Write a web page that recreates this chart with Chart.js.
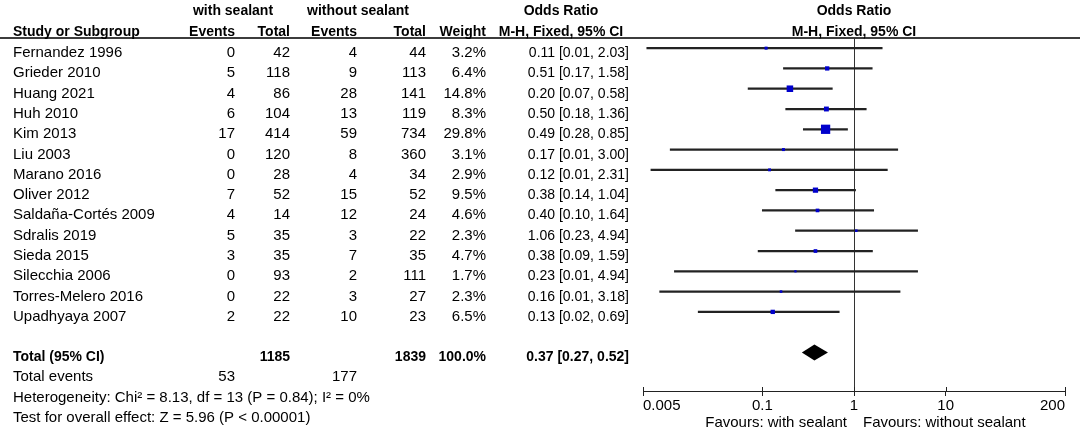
<!DOCTYPE html>
<html>
<head>
<meta charset="utf-8">
<script src="https://cdn.jsdelivr.net/npm/chart.js@4.4.0/dist/chart.umd.min.js"></script>
<style>
  html, body { margin: 0; padding: 0; background: #fff; }
  #wrap { width: 1080px; height: 431px; position: relative; }
</style>
</head>
<body>
<div id="wrap"><canvas id="ForestChart"></canvas></div>
<script>
// 研究ごとのデータ
var studies = ["Fernandez 1996", "Grieder 2010", "Huang 2021", "Huh 2010", "Kim 2013", "Liu 2003",
  "Marano 2016", "Oliver 2012", "Saldaña-Cortés 2009", "Sdralis 2019", "Sieda 2015",
  "Silecchia 2006", "Torres-Melero 2016", "Upadhyaya 2007"];
var eventsWith = [0, 5, 4, 6, 17, 0, 0, 7, 4, 5, 3, 0, 0, 2];
var totalWith = [42, 118, 86, 104, 414, 120, 28, 52, 14, 35, 35, 93, 22, 22];
var eventsWithout = [4, 9, 28, 13, 59, 8, 4, 15, 12, 3, 7, 2, 3, 10];
var totalWithout = [44, 113, 141, 119, 734, 360, 34, 52, 24, 22, 35, 111, 27, 23];
var weight = [3.2, 6.4, 14.8, 8.3, 29.8, 3.1, 2.9, 9.5, 4.6, 2.3, 4.7, 1.7, 2.3, 6.5];
var oddsRatio = [0.11, 0.51, 0.20, 0.50, 0.49, 0.17, 0.12, 0.38, 0.40, 1.06, 0.38, 0.23, 0.16, 0.13];
var ciLow = [0.0055, 0.17, 0.07, 0.18, 0.28, 0.0099, 0.0061, 0.14, 0.10, 0.23, 0.09, 0.011, 0.0076, 0.02];
var ciHigh = [2.03, 1.58, 0.58, 1.36, 0.85, 3.00, 2.31, 1.04, 1.64, 4.94, 1.59, 4.94, 3.18, 0.69];
var ciLabels = ["0.11 [0.01, 2.03]", "0.51 [0.17, 1.58]", "0.20 [0.07, 0.58]", "0.50 [0.18, 1.36]",
  "0.49 [0.28, 0.85]", "0.17 [0.01, 3.00]", "0.12 [0.01, 2.31]", "0.38 [0.14, 1.04]",
  "0.40 [0.10, 1.64]", "1.06 [0.23, 4.94]", "0.38 [0.09, 1.59]", "0.23 [0.01, 4.94]",
  "0.16 [0.01, 3.18]", "0.13 [0.02, 0.69]"];

// 合計
var pooled = [0.37, 0.27, 0.52];
var totalsRow = ["Total (95% CI)", "1185", "1839", "100.0%", "0.37 [0.27, 0.52]"];
var eventsRow = ["Total events", "53", "177"];
var footLines = ["Heterogeneity: Chi² = 8.13, df = 13 (P = 0.84); I² = 0%",
  "Test for overall effect: Z = 5.96 (P < 0.00001)"];

// 軸
var axisTicks = [0.005, 0.1, 1, 10, 200];
var axisLabels = ["0.005", "0.1", "1", "10", "200"];
var favours = ["Favours: with sealant", "Favours: without sealant"];

var FONT = "'Liberation Sans', Arial, sans-serif";
Chart.defaults.font.family = FONT;

function put(c, txt, px, py, align, font) {
  c.font = font;
  c.textAlign = align;
  c.fillText(txt, px, py);
}

var forestPlugin = {
  id: 'forestPlugin',
  beforeDatasetsDraw: function (chart) {
    var c = chart.ctx, x = chart.scales.x, a = chart.chartArea;
    c.save();
    c.fillStyle = '#3c3c3c';
    c.fillRect(0, a.top - 1, chart.width, 2);
    c.strokeStyle = '#333';
    c.lineWidth = 1;
    var x1 = Math.round(x.getPixelForValue(1)) + 0.5;
    c.beginPath(); c.moveTo(x1, a.top); c.lineTo(x1, a.bottom); c.stroke();
    c.strokeStyle = '#222';
    axisTicks.forEach(function (v) {
      var px = Math.round(x.getPixelForValue(v)) + 0.5;
      c.beginPath(); c.moveTo(px, a.bottom - 4); c.lineTo(px, a.bottom); c.stroke();
    });
    c.restore();
  },
  afterDatasetsDraw: function (chart) {
    // 統合結果のダイヤ
    var c = chart.ctx, x = chart.scales.x, y = chart.scales.y;
    var yy = y.getPixelForValue(studies.length + 1);
    c.save();
    c.fillStyle = '#000';
    c.beginPath();
    c.moveTo(x.getPixelForValue(pooled[1]), yy);
    c.lineTo(x.getPixelForValue(pooled[0]), yy - 8);
    c.lineTo(x.getPixelForValue(pooled[2]), yy);
    c.lineTo(x.getPixelForValue(pooled[0]), yy + 8);
    c.closePath();
    c.fill();
    c.restore();
  },
  afterDraw: function (chart) {
    var c = chart.ctx, x = chart.scales.x, y = chart.scales.y;
    var REG = '15px ' + FONT, NUM = '14px ' + FONT;
    var BOLD = 'bold 14px ' + FONT, BNUM = 'bold 14px ' + FONT;
    var mid = x.getPixelForValue(1);
    c.save();
    c.fillStyle = '#000';
    c.textBaseline = 'alphabetic';
    // 見出し
    put(c, 'with sealant', 233, 15, 'center', BOLD);
    put(c, 'without sealant', 358, 15, 'center', BOLD);
    put(c, 'Odds Ratio', 561, 15, 'center', BOLD);
    put(c, 'Odds Ratio', mid, 15, 'center', BOLD);
    put(c, 'Study or Subgroup', 13, 36, 'left', BOLD);
    put(c, 'Events', 235, 36, 'right', BOLD);
    put(c, 'Total', 290, 36, 'right', BOLD);
    put(c, 'Events', 357, 36, 'right', BOLD);
    put(c, 'Total', 426, 36, 'right', BOLD);
    put(c, 'Weight', 486, 36, 'right', BOLD);
    put(c, 'M-H, Fixed, 95% CI', 561, 36, 'center', BOLD);
    put(c, 'M-H, Fixed, 95% CI', mid, 36, 'center', BOLD);
    // 各研究
    studies.forEach(function (s, i) {
      var b = y.getPixelForValue(i) + 9;
      put(c, s, 13, b, 'left', REG);
      put(c, String(eventsWith[i]), 235, b, 'right', REG);
      put(c, String(totalWith[i]), 290, b, 'right', REG);
      put(c, String(eventsWithout[i]), 357, b, 'right', REG);
      put(c, String(totalWithout[i]), 426, b, 'right', REG);
      put(c, weight[i].toFixed(1) + '%', 486, b, 'right', REG);
      put(c, ciLabels[i], 629, b, 'right', NUM);
    });
    // 合計行
    var bt = y.getPixelForValue(studies.length + 1) + 8.5;
    put(c, totalsRow[0], 13, bt, 'left', BOLD);
    put(c, totalsRow[1], 290, bt, 'right', BOLD);
    put(c, totalsRow[2], 426, bt, 'right', BOLD);
    put(c, totalsRow[3], 486, bt, 'right', BOLD);
    put(c, totalsRow[4], 629, bt, 'right', BNUM);
    var be = y.getPixelForValue(studies.length + 2) + 8.5;
    put(c, eventsRow[0], 13, be, 'left', REG);
    put(c, eventsRow[1], 235, be, 'right', REG);
    put(c, eventsRow[2], 357, be, 'right', REG);
    footLines.forEach(function (t, k) {
      put(c, t, 13, y.getPixelForValue(studies.length + 3 + k) + 8.5, 'left', REG);
    });
    // Favours
    put(c, favours[0], mid - 7, 427, 'right', REG);
    put(c, favours[1], mid + 9, 427, 'left', REG);
    c.restore();
  }
};

var ctx = document.getElementById("ForestChart").getContext('2d');
var myChart = new Chart(ctx, {
  type: 'scatter',
  data: {
    datasets: [
      {
        type: 'scatter',
        label: 'Odds Ratio',
        data: studies.map(function (s, i) { return {x: oddsRatio[i], y: i}; }),
        pointStyle: 'rect',
        pointRadius: function (c) { return 1.7 * Math.sqrt(weight[c.dataIndex]) / Math.SQRT2; },
        pointHoverRadius: function (c) { return 1.7 * Math.sqrt(weight[c.dataIndex]) / Math.SQRT2; },
        backgroundColor: '#0000cc',
        borderWidth: 0,
        order: 0
      },
      {
        type: 'bar',
        label: '95% CI',
        indexAxis: 'y',
        data: studies.map(function (s, i) { return {y: i, x: [ciLow[i], ciHigh[i]]}; }),
        barThickness: 1.6,
        backgroundColor: '#222',
        order: 1
      }
    ]
  },
  options: {
    responsive: true,
    maintainAspectRatio: false,
    animation: false,
    events: [],
    layout: {padding: {left: 643, right: 15, top: 38, bottom: 0}},
    plugins: {legend: {display: false}, tooltip: {enabled: false}},
    scales: {
      x: {
        type: 'logarithmic',
        min: 0.005,
        max: 200,
        position: 'bottom',
        afterBuildTicks: function (s) { s.ticks = axisTicks.map(function (v) { return {value: v}; }); },
        afterFit: function (s) { s.height = 40; },
        ticks: {
          align: 'inner',
          autoSkip: false,
          maxRotation: 0,
          padding: 1,
          color: '#000',
          font: {size: 15},
          callback: function (v, i) { return axisLabels[i]; }
        },
        grid: {drawOnChartArea: false, tickLength: 5, color: '#222'},
        border: {color: '#222', width: 1}
      },
      y: {
        type: 'linear', min: -0.5, max: 16.9, reverse: true, display: false,
        offset: false, grid: {offset: false}
      }
    }
  },
  plugins: [forestPlugin]
});
</script>
</body>
</html>
